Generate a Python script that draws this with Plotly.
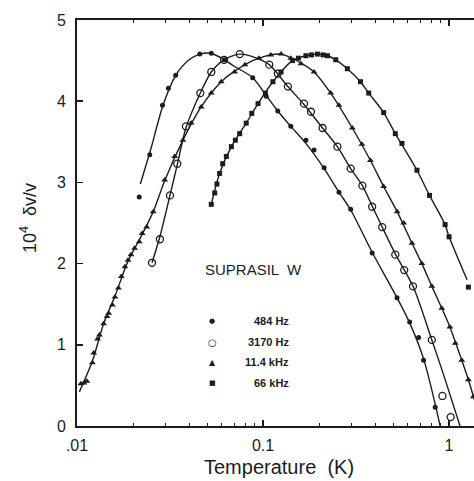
import plotly.graph_objects as go

# ---------------- data ----------------
# 484 Hz (filled circles)
t484 = [0.0216, 0.0246, 0.0288, 0.031, 0.0339, 0.0457, 0.0527, 0.062, 0.088, 0.104, 0.120,
        0.141, 0.170, 0.188, 0.213, 0.256, 0.296, 0.386, 0.525, 0.614, 0.686, 0.729, 0.842]
v484 = [2.82, 3.34, 3.95, 4.16, 4.32, 4.58, 4.59, 4.51, 4.29, 4.06, 3.88,
        3.69, 3.52, 3.40, 3.18, 2.88, 2.67, 2.13, 1.58, 1.28, 1.09, 0.81, 0.23]
fit_t484 = [0.0219, 0.025, 0.029, 0.034, 0.040, 0.046, 0.052, 0.060, 0.070, 0.088, 0.104, 0.120,
            0.141, 0.170, 0.213, 0.256, 0.296, 0.386, 0.525, 0.614, 0.729, 0.842, 0.895]
fit_v484 = [2.98, 3.42, 3.95, 4.32, 4.51, 4.58, 4.59, 4.53, 4.43, 4.29, 4.07, 3.88,
            3.69, 3.48, 3.17, 2.88, 2.66, 2.14, 1.58, 1.27, 0.83, 0.27, 0.0]

# 3170 Hz (open circles)
t3170 = [0.0253, 0.0279, 0.0316, 0.0346, 0.0385, 0.046, 0.0527, 0.0617, 0.075, 0.108, 0.120,
         0.136, 0.166, 0.181, 0.209, 0.251, 0.296, 0.342, 0.386, 0.437, 0.514, 0.574, 0.640,
         0.808, 0.921, 1.02]
v3170 = [2.01, 2.30, 2.84, 3.23, 3.69, 4.10, 4.36, 4.51, 4.58, 4.45, 4.34,
         4.18, 3.97, 3.87, 3.67, 3.44, 3.17, 2.96, 2.70, 2.45, 2.11, 1.92, 1.72,
         1.06, 0.37, 0.11]
fit_t3170 = [0.0253, 0.0279, 0.0316, 0.0346, 0.0385, 0.046, 0.0527, 0.0617, 0.075, 0.090, 0.108,
             0.136, 0.166, 0.209, 0.251, 0.296, 0.342, 0.386, 0.437, 0.514, 0.640, 0.808, 0.95, 1.145]
fit_v3170 = [2.01, 2.33, 2.84, 3.22, 3.67, 4.10, 4.36, 4.51, 4.58, 4.54, 4.45,
             4.18, 3.96, 3.67, 3.44, 3.17, 2.96, 2.71, 2.45, 2.12, 1.72, 1.06, 0.58, 0.0]

# 11.4 kHz (triangles)
t114 = [0.0105, 0.0109, 0.0113, 0.0121, 0.0123, 0.0129, 0.0132, 0.0139, 0.0145, 0.0148, 0.0155,
        0.0160, 0.0167, 0.0173, 0.0181, 0.0188, 0.0195, 0.0204, 0.0216, 0.0224, 0.0237, 0.0257,
        0.0296, 0.0335, 0.0371, 0.0411, 0.0465, 0.0527, 0.0596, 0.0703, 0.080, 0.095, 0.110,
        0.125, 0.141, 0.160, 0.188, 0.231, 0.256, 0.302, 0.340, 0.378, 0.445, 0.526, 0.570,
        0.632, 0.714, 0.808, 0.914, 1.01, 1.08, 1.17, 1.27, 1.35]
v114 = [0.52, 0.53, 0.55, 0.78, 0.90, 1.07, 1.12, 1.26, 1.35, 1.39, 1.49,
        1.59, 1.70, 1.84, 1.96, 2.04, 2.11, 2.19, 2.27, 2.37, 2.45, 2.64,
        3.03, 3.32, 3.52, 3.73, 3.93, 4.10, 4.24, 4.36, 4.45, 4.53, 4.57,
        4.58, 4.53, 4.46, 4.36, 4.10, 3.95, 3.67, 3.47, 3.27, 2.95, 2.64, 2.50,
        2.25, 2.00, 1.72, 1.45, 1.22, 1.02, 0.81, 0.57, 0.36]
fit_t114 = [0.0103, 0.0121, 0.0139, 0.0160, 0.0188, 0.0216, 0.0257, 0.0296, 0.0371, 0.0465,
            0.0596, 0.0703, 0.095, 0.125, 0.160, 0.188, 0.231, 0.302, 0.378, 0.445, 0.526,
            0.632, 0.714, 0.808, 0.914, 1.01, 1.17, 1.27, 1.37]
fit_v114 = [0.42, 0.80, 1.26, 1.60, 2.03, 2.29, 2.64, 3.02, 3.52, 3.93,
            4.24, 4.37, 4.53, 4.58, 4.47, 4.36, 4.10, 3.67, 3.27, 2.95, 2.64,
            2.25, 2.00, 1.72, 1.45, 1.22, 0.81, 0.57, 0.32]

# 66 kHz (squares)
t66 = [0.0527, 0.055, 0.0565, 0.0584, 0.0607, 0.0635, 0.0676, 0.071, 0.0749, 0.0812, 0.087,
       0.094, 0.103, 0.113, 0.125, 0.144, 0.155, 0.170, 0.182, 0.196, 0.210, 0.222, 0.246,
       0.284, 0.334, 0.370, 0.445, 0.514, 0.558, 0.672, 0.785, 0.952, 1.0, 1.27]
v66 = [2.73, 2.87, 2.98, 3.11, 3.23, 3.32, 3.44, 3.52, 3.60, 3.73, 3.85,
       3.97, 4.10, 4.24, 4.36, 4.50, 4.53, 4.56, 4.57, 4.58, 4.57, 4.56, 4.51,
       4.40, 4.24, 4.10, 3.86, 3.60, 3.48, 3.15, 2.84, 2.48, 2.33, 1.71]
fit_t66 = [0.0527, 0.0584, 0.0676, 0.0812, 0.094, 0.113, 0.144, 0.170, 0.196, 0.222, 0.246,
           0.284, 0.334, 0.370, 0.445, 0.514, 0.672, 0.785, 0.952, 1.0, 1.25]
fit_v66 = [2.73, 3.11, 3.44, 3.73, 3.97, 4.24, 4.50, 4.56, 4.58, 4.56, 4.51,
           4.40, 4.24, 4.10, 3.86, 3.60, 3.15, 2.84, 2.48, 2.33, 1.80]

x_tickvals = [0.01, 0.1, 1]
x_ticktext = [".01", "0.1", "1"]
y_tickvals = [0, 1, 2, 3, 4, 5]
legend_labels = ["484 Hz", "3170 Hz", "11.4 kHz", "66 kHz"]
legend_glyphs = ["●", "○", "▲", "■"]

INK = "#1c1c1c"
FONT = "Liberation Sans"

fig = go.Figure()

for ft, fv in [(fit_t484, fit_v484), (fit_t3170, fit_v3170), (fit_t114, fit_v114), (fit_t66, fit_v66)]:
    fig.add_trace(go.Scatter(x=ft, y=fv, mode="lines",
                             line=dict(color=INK, width=1.4, shape="spline", smoothing=0.8),
                             hoverinfo="skip", showlegend=False))

series = [
    (t484, v484, dict(symbol="circle", size=5, color=INK)),
    (t3170, v3170, dict(symbol="circle-open", size=7, color=INK, line=dict(width=1.3, color=INK))),
    (t114, v114, dict(symbol="triangle-up", size=6, color=INK)),
    (t66, v66, dict(symbol="square", size=5, color=INK)),
]
for (t, v, mk), name in zip(series, legend_labels):
    fig.add_trace(go.Scatter(x=t, y=v, mode="markers", marker=mk, name=name, showlegend=False))

# geometry helpers (plot area: x 77..474, y 20..426 in a 474x481 page)
L, R, T, B = 77, 474, 20, 426
def px(x):
    return (x - L) / (R - L)
def py(y):
    return (B - y) / (B - T)

fig.add_annotation(x=px(203), y=py(269), xref="paper", yref="paper", text="SUPRASIL  W",
                   showarrow=False, xanchor="left", yanchor="middle",
                   font=dict(family=FONT, size=15, color=INK))
rows_y = [321, 342, 362, 383]
glyph_sizes = [7, 10, 8, 7]
for lab, gl, gy, gs in zip(legend_labels, legend_glyphs, rows_y, glyph_sizes):
    fig.add_annotation(x=px(212), y=py(gy), xref="paper", yref="paper", text=gl,
                       showarrow=False, xanchor="center", yanchor="middle",
                       font=dict(family="DejaVu Sans", size=gs, color=INK))
    fig.add_annotation(x=px(291), y=py(gy), xref="paper", yref="paper", text="<b>" + lab + "</b>",
                       showarrow=False, xanchor="right", yanchor="middle",
                       font=dict(family=FONT, size=11, color=INK))

fig.add_annotation(x=px(279), y=py(467), xref="paper", yref="paper", text="Temperature  (K)",
                   showarrow=False, xanchor="center", yanchor="middle",
                   font=dict(family=FONT, size=20, color=INK))
fig.add_annotation(x=px(29), y=py(218), xref="paper", yref="paper", text="10<sup>4</sup>  δv/v",
                   showarrow=False, xanchor="center", yanchor="middle", textangle=-90,
                   font=dict(family=FONT, size=18, color=INK))

minor_vals = [m * d for d in (0.01, 0.1, 1) for m in range(2, 10)]

fig.update_layout(
    width=474, height=481,
    margin=dict(l=L, r=0, t=T, b=481 - B, autoexpand=False),
    paper_bgcolor="white", plot_bgcolor="white",
    showlegend=False,
    font=dict(family=FONT, color=INK),
    xaxis=dict(type="log", range=[-2, 0.134], showgrid=False, zeroline=False, automargin=False,
               showline=True, linecolor=INK, linewidth=2, mirror="ticks",
               ticks="inside", ticklen=6, tickwidth=1.5, tickcolor=INK,
               tickmode="array", tickvals=x_tickvals, ticktext=x_ticktext,
               tickfont=dict(family=FONT, size=16, color=INK), ticklabelstandoff=4,
               minor=dict(ticks="inside", ticklen=3, tickwidth=1, tickcolor=INK,
                          tickmode="array", tickvals=minor_vals, showgrid=False)),
    yaxis=dict(range=[0, 5], showgrid=False, zeroline=False, automargin=False,
               showline=True, linecolor=INK, linewidth=2,
               ticks="inside", ticklen=6, tickwidth=1.5, tickcolor=INK,
               tickmode="array", tickvals=y_tickvals,
               tickfont=dict(family=FONT, size=16, color=INK), ticklabelstandoff=6),
)

fig.write_html("out.html", config={"displayModeBar": False, "staticPlot": True},
               post_script="document.body.style.margin='0';document.body.style.overflow='hidden';")
